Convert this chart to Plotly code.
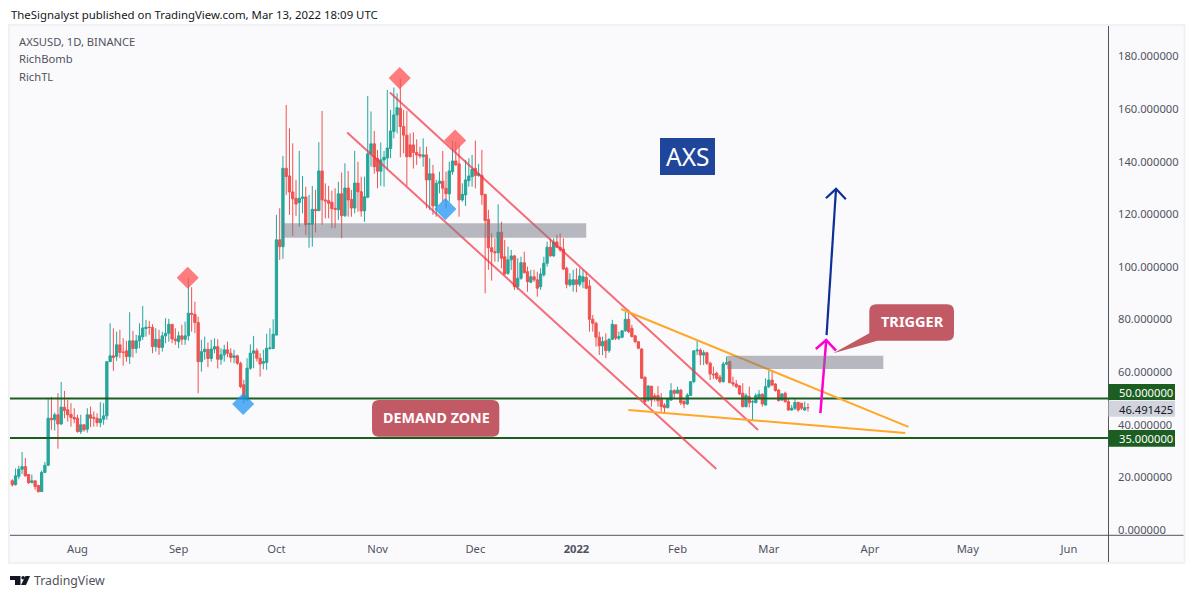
import pandas as pd
import plotly.graph_objects as go

START = pd.Timestamp("2021-07-12")

opens = [18.7,17.2,20.4,23.1,24.1,21.1,18.0,18.7,16.9,14.6,
 21.9,24.6,42.5,41.9,43.8,40.3,46.7,45.7,44.0,42.8,
 42.5,37.4,40.0,38.3,43.8,42.8,42.5,40.8,42.1,43.4,
 64.0,66.2,66.0,70.4,67.7,68.1,65.9,71.9,69.0,71.9,
 73.5,76.6,77.1,77.0,69.7,72.5,69.4,73.8,74.8,78.2,
 72.6,71.6,73.8,72.5,73.8,82.4,82.0,78.9,64.0,67.8,
 68.7,65.2,68.8,69.7,64.9,66.6,68.5,67.2,65.6,66.2,
 63.4,55.2,49.4,61.5,67.2,68.1,65.3,63.4,63.7,69.0,
 69.0,74.1,110.3,107.7,137.5,134.6,128.5,126.1,124.5,126.1,
 126.6,116.2,116.2,121.9,121.4,136.5,125.5,125.2,124.6,122.3,
 121.7,127.8,119.5,130.0,125.7,122.4,131.9,128.6,121.3,126.5,
 143.0,146.8,141.3,136.4,140.7,141.4,145.0,151.5,157.8,160.3,
 153.4,150.1,146.4,146.4,143.5,142.8,141.9,142.6,133.1,135.4,
 123.2,131.8,132.6,129.9,127.8,136.2,140.3,139.2,125.5,127.4,
 132.8,134.3,137.4,134.8,134.8,127.6,118.1,107.3,105.8,105.4,
 113.2,103.9,97.6,102.7,104.2,92.5,95.7,101.6,98.2,94.2,
 96.3,95.1,92.5,97.0,101.4,107.5,104.2,109.5,107.5,106.8,
 99.5,93.2,93.2,95.1,93.4,94.4,96.0,92.8,80.1,78.6,
 73.3,70.0,71.9,68.2,72.5,78.0,72.9,73.3,75.7,80.1,
 76.7,73.8,71.6,68.8,58.1,49.4,54.7,51.0,51.1,50.1,
 47.5,46.5,49.4,53.0,52.0,53.2,48.8,47.9,51.1,56.4,
 68.1,68.4,66.5,67.4,63.4,59.3,59.6,58.1,56.4,63.1,
 64.0,56.0,55.5,54.8,52.0,46.9,50.7,48.7,48.4,50.1,
 51.6,47.5,54.5,57.0,55.5,53.2,49.4,52.0,48.8,45.6,
 46.3,48.5,48.2,45.6,46.5]

closes = [17.2,20.6,23.1,24.1,20.6,18.0,18.7,16.5,14.6,21.9,
 24.6,42.5,41.9,43.8,40.3,46.7,45.4,43.8,42.8,42.2,
 37.4,40.0,38.1,43.8,42.5,42.5,40.8,42.2,43.4,64.0,
 66.2,65.6,70.4,67.5,67.5,65.9,71.9,69.0,71.9,73.8,
 76.8,77.1,77.0,69.7,72.5,69.4,73.8,74.8,78.2,72.6,
 72.0,73.8,72.5,73.8,82.4,82.0,78.9,64.0,67.8,68.7,
 65.2,68.8,69.7,64.9,66.6,68.5,67.2,65.6,66.2,63.4,
 54.5,50.1,61.5,67.2,68.1,65.3,63.1,64.0,69.1,69.2,
 74.4,110.3,107.7,137.5,134.4,128.5,125.9,123.9,126.1,126.6,
 116.0,116.5,121.9,121.4,136.5,125.5,125.1,124.2,122.1,121.9,
 127.8,119.5,130.0,125.5,122.4,131.9,128.6,121.3,126.7,143.0,
 146.8,138.1,136.4,140.7,141.7,145.2,151.7,157.8,160.6,153.4,
 150.1,141.9,141.9,143.5,142.6,142.2,142.6,133.1,135.4,123.2,
 131.8,132.6,129.9,127.8,136.5,140.3,138.8,125.5,127.6,133.1,
 134.6,137.1,134.8,135.4,127.4,117.6,107.3,105.8,105.4,113.2,
 103.3,97.3,102.7,104.2,92.5,95.7,101.6,97.8,94.4,96.3,
 95.1,91.9,97.3,101.4,107.5,104.2,109.5,107.5,106.5,99.2,
 93.4,95.1,95.1,93.4,96.6,96.3,91.9,80.1,78.6,73.3,
 70.0,71.6,68.2,72.5,78.2,72.9,73.5,75.7,80.1,75.4,
 73.5,71.6,69.1,57.7,48.8,54.7,49.4,50.1,49.1,46.9,
 46.5,49.7,53.0,52.0,53.2,48.4,47.9,51.3,56.4,68.1,
 68.4,66.5,67.4,63.4,59.3,59.0,57.7,56.4,63.1,63.6,
 56.0,55.5,54.5,51.7,46.9,51.1,48.4,48.8,51.1,51.6,
 47.9,54.5,57.0,55.1,53.0,49.2,51.7,48.8,45.6,46.3,
 48.5,45.6,46.3,46.5,46.49]

highs = [19.3,23.4,24.4,29.7,27.4,21.1,21.1,18.7,17.2,22.6,
 25.9,50.2,50.6,44.6,52.0,56.3,52.9,49.5,48.2,46.3,
 43.8,43.8,40.0,46.3,46.9,45.0,44.4,48.6,48.2,64.0,
 78.6,76.7,75.4,76.1,72.9,71.9,82.8,75.7,74.2,78.6,
 85.2,79.9,79.5,78.2,76.7,76.1,75.4,80.5,80.3,78.2,
 76.7,75.4,78.0,79.2,95.7,92.3,86.8,81.1,72.3,73.5,
 71.3,72.3,72.9,72.5,69.1,70.4,71.6,69.1,68.5,66.6,
 64.0,57.1,65.3,70.6,73.8,69.1,67.2,68.5,74.6,76.7,
 80.1,119.8,122.3,142.2,161.6,152.7,147.0,133.1,144.1,134.6,
 130.5,127.4,130.8,129.3,147.4,159.3,131.8,130.8,129.0,129.9,
 132.4,135.9,139.4,136.5,129.3,144.1,140.0,134.3,134.3,165.0,
 159.1,151.7,144.5,147.3,144.1,167.3,159.7,168.2,166.0,171.7,
 159.7,159.4,150.8,151.2,148.5,145.7,148.9,145.7,141.3,138.8,
 133.1,136.2,144.1,136.2,140.0,147.9,147.6,146.4,131.8,140.7,
 141.3,142.6,148.0,139.2,144.5,127.6,121.7,112.8,110.9,123.8,
 117.2,110.3,107.7,106.5,104.6,103.3,103.9,105.8,100.1,98.9,
 98.9,98.2,99.5,103.9,109.6,110.9,110.9,112.2,112.8,110.9,
 100.1,97.6,98.9,99.5,99.5,98.9,98.2,95.1,81.8,79.2,
 75.4,73.5,74.8,72.9,79.9,78.0,75.4,76.0,83.0,83.7,
 78.0,74.2,71.6,69.1,58.3,55.1,54.7,52.0,54.7,52.0,
 48.2,50.1,55.8,53.5,54.5,53.5,50.1,52.0,56.4,68.2,
 72.2,69.1,68.4,67.8,64.0,62.1,60.2,59.0,64.0,65.9,
 64.4,58.3,57.0,55.1,55.8,52.0,54.5,49.4,52.0,53.2,
 52.0,57.7,61.5,60.8,55.8,53.5,52.0,52.6,50.1,47.5,
 49.7,48.8,48.2,48.8,48.2]

lows = [16.5,16.9,19.3,21.3,20.3,17.5,17.8,15.3,14.2,14.6,
 21.6,24.4,38.1,37.8,30.9,40.0,42.5,41.2,39.3,40.6,
 37.0,36.5,37.4,37.0,39.1,39.3,39.3,39.1,40.0,41.9,
 64.0,60.5,64.3,65.3,62.5,64.0,63.1,65.6,67.2,69.1,
 72.3,73.5,74.2,67.2,67.8,66.6,67.8,71.0,71.6,71.0,
 70.4,69.1,70.4,70.4,72.0,75.4,74.8,52.0,60.2,64.7,
 61.9,64.0,67.2,61.4,62.8,64.0,65.7,63.7,63.4,62.8,
 53.9,48.2,49.4,60.9,61.5,64.0,58.3,61.1,60.9,68.5,
 68.7,74.1,102.7,103.1,127.4,119.8,111.8,119.4,115.3,120.4,
 112.2,107.3,107.7,113.1,121.3,116.0,118.5,118.5,114.7,114.7,
 117.9,110.9,119.0,119.1,119.1,120.4,121.0,119.1,117.2,126.1,
 138.1,135.4,129.9,130.8,130.5,136.9,141.3,148.9,150.8,141.7,
 143.2,130.8,141.7,137.4,138.8,141.3,138.1,122.3,121.7,119.8,
 119.1,128.0,124.8,122.3,124.8,135.0,138.5,119.1,124.8,123.2,
 130.5,130.5,129.9,134.3,123.6,90.0,98.9,94.8,102.0,102.0,
 99.5,97.0,97.0,98.9,91.3,91.3,95.1,97.6,90.6,93.8,
 94.4,88.7,91.3,96.3,100.1,103.9,103.9,107.1,105.8,98.9,
 91.9,92.5,90.6,90.4,92.5,91.9,91.5,75.4,75.4,69.7,
 66.5,66.5,65.3,67.4,72.2,72.2,72.2,72.9,75.4,74.8,
 73.3,71.0,68.7,57.4,47.5,48.8,46.9,48.8,46.9,45.0,
 44.4,46.3,49.2,50.1,51.7,47.5,46.3,47.5,51.1,55.8,
 66.5,62.7,62.7,62.7,57.0,57.4,57.0,55.8,56.0,62.7,
 55.8,54.5,53.9,51.3,46.6,46.6,46.6,41.8,48.2,49.7,
 46.9,47.3,53.9,54.8,52.6,48.8,49.2,48.4,45.4,45.4,
 45.6,45.0,45.6,45.3,45.0]

price_ticks = [0, 20, 40, 60, 80, 100, 120, 140, 160, 180]
month_ticks = ["2021-08-01", "2021-09-01", "2021-10-01", "2021-11-01", "2021-12-01", "2022-01-01",
               "2022-02-01", "2022-03-01", "2022-04-01", "2022-05-01", "2022-06-01"]
month_labels = ["Aug", "Sep", "Oct", "Nov", "Dec", "<b>2022</b>", "Feb", "Mar", "Apr", "May", "Jun"]

# drawings: days after the first candle, and prices
upper_channel_days, upper_channel_prices = [115.8, 228.7], [166.3, 38.0]
lower_channel_days, lower_channel_prices = [102.7, 215.9], [151.1, 23.2]
wedge_top_days, wedge_top_prices = [186.7, 274.8], [84.0, 39.2]
wedge_bottom_days, wedge_bottom_prices = [188.9, 273.8], [45.6, 36.9]
navy_shaft_days, navy_shaft_prices = [249.7, 252.6], [74.1, 129.7]
navy_head_days, navy_head_prices = [249.5, 252.6, 255.6], [126.1, 129.7, 125.7]
pink_shaft_days, pink_shaft_prices = [247.8, 249.6], [44.4, 72.2]
pink_head_days, pink_head_prices = [246.4, 249.6, 252.6], [68.8, 72.2, 68.2]
red_marker_days, red_marker_prices = [53.8, 118.8, 135.8], [95.9, 171.8, 148.1]
blue_marker_days, blue_marker_prices = [70.8, 132.8], [47.9, 122.0]
support_levels = [50, 35]
band_upper = dict(days=[83.0, 176.0], prices=[111.1, 116.6])
band_lower = dict(days=[219.2, 267.1], prices=[61.2, 66.2])
last_price = 46.491425

VIEW_DAYS = [-0.7, 336.0]
VIEW_PRICES = [-1.9, 191.6]

GREEN, RED = "#26a69a", "#ef5350"
DARK_GREEN = "#1b5e20"
PANEL = "#fafafd"
BORDER = "#f0f1f5"
AXIS = "#50535e"
TEXT = "#50535e"
FONT = "Noto Sans"

L, R, T, B = 10, 1108, 26, 535
W, H = 1194, 598


def day(values):
    return [START + pd.Timedelta(days=v) for v in values]


def px(x):
    return (x - L) / (R - L)


def py(y):
    return (B - y) / (B - T)


def poly(points):
    return "M " + " L ".join(f"{px(x):.5f},{py(y):.5f}" for x, y in points) + " Z"


def rounded(x0, y0, x1, y1, r, extra=None):
    seg = [f"M {px(x0 + r):.5f},{py(y0):.5f}",
           f"L {px(x1 - r):.5f},{py(y0):.5f}",
           f"Q {px(x1):.5f},{py(y0):.5f} {px(x1):.5f},{py(y0 + r):.5f}",
           f"L {px(x1):.5f},{py(y1 - r):.5f}",
           f"Q {px(x1):.5f},{py(y1):.5f} {px(x1 - r):.5f},{py(y1):.5f}"]
    if extra:
        for ex, ey in extra:
            seg.append(f"L {px(ex):.5f},{py(ey):.5f}")
    else:
        seg.append(f"L {px(x0 + r):.5f},{py(y1):.5f}")
        seg.append(f"Q {px(x0):.5f},{py(y1):.5f} {px(x0):.5f},{py(y1 - r):.5f}")
    seg.append(f"L {px(x0):.5f},{py(y0 + r):.5f}")
    seg.append(f"Q {px(x0):.5f},{py(y0):.5f} {px(x0 + r):.5f},{py(y0):.5f} Z")
    return " ".join(seg)


fig = go.Figure()
fig.add_trace(go.Candlestick(
    x=pd.date_range(START, periods=len(opens)),
    open=opens, high=highs, low=lows, close=closes,
    whiskerwidth=0,
    increasing=dict(line=dict(color=GREEN, width=1), fillcolor=GREEN),
    decreasing=dict(line=dict(color=RED, width=1), fillcolor=RED),
    showlegend=False,
))


def line(days, prices, color, width):
    fig.add_trace(go.Scatter(x=day(days), y=prices, mode="lines", showlegend=False,
                             line=dict(color=color, width=width), hoverinfo="skip"))


for level in support_levels:
    line(VIEW_DAYS, [level, level], DARK_GREEN, 2)
line(upper_channel_days, upper_channel_prices, "rgba(242,54,69,0.72)", 2)
line(lower_channel_days, lower_channel_prices, "rgba(242,54,69,0.72)", 2)
line(wedge_top_days, wedge_top_prices, "#ffa726", 2)
line(wedge_bottom_days, wedge_bottom_prices, "#ffa726", 2)
line(navy_shaft_days, navy_shaft_prices, "#0d2f9a", 2.2)
line(navy_head_days, navy_head_prices, "#0d2f9a", 2.2)
line(pink_shaft_days, pink_shaft_prices, "#ff00d0", 2.5)
line(pink_head_days, pink_head_prices, "#ff00d0", 2.5)

fig.add_trace(go.Scatter(x=day(red_marker_days), y=red_marker_prices, mode="markers", showlegend=False,
                         marker=dict(symbol="diamond", size=17, color="rgba(255,82,82,0.75)", line=dict(width=0))))
fig.add_trace(go.Scatter(x=day(blue_marker_days), y=blue_marker_prices, mode="markers", showlegend=False,
                         marker=dict(symbol="diamond", size=17, color="rgba(33,150,243,0.75)", line=dict(width=0))))

shapes = [
    dict(type="rect", xref="paper", yref="paper", layer="below",
         x0=px(9), x1=px(1184.5), y0=py(563), y1=py(25),
         fillcolor=PANEL, line=dict(color=BORDER, width=2)),
]
for band in (band_upper, band_lower):
    shapes.append(dict(type="rect", xref="x", yref="y", layer="above",
                       x0=day(band["days"])[0], x1=day(band["days"])[1],
                       y0=band["prices"][0], y1=band["prices"][1],
                       fillcolor="rgba(120,123,134,0.52)", line=dict(width=0)))
shapes += [
    dict(type="line", xref="paper", yref="paper", layer="above", x0=px(10), x1=px(1183.5), y0=py(535.3), y1=py(535.3),
         line=dict(color=AXIS, width=1)),
    dict(type="line", xref="paper", yref="paper", layer="above", x0=px(1108.5), x1=px(1108.5), y0=py(26), y1=py(562),
         line=dict(color=AXIS, width=1)),
    dict(type="path", xref="paper", yref="paper", layer="above", line=dict(width=0), fillcolor="#1f469b",
         path=poly([(660, 138), (715, 138), (715, 175), (660, 175)])),
    dict(type="path", xref="paper", yref="paper", layer="above", line=dict(width=0), fillcolor="#c25a65",
         path=rounded(372, 400, 499.3, 436.7, 7)),
    dict(type="path", xref="paper", yref="paper", layer="above", line=dict(width=0), fillcolor="#c25a65",
         path=rounded(869.3, 304.3, 954, 340.7, 7, extra=[(877.3, 340.7), (833.3, 353.3), (869.3, 333.3)])),
    dict(type="path", xref="paper", yref="paper", layer="above", line=dict(width=0), fillcolor="#d1d4dc",
         path=poly([(1108.5, 400.7), (1175, 400.7), (1175, 416.7), (1108.5, 416.7)])),
    dict(type="path", xref="paper", yref="paper", layer="above", line=dict(width=0), fillcolor=DARK_GREEN,
         path=poly([(1108.5, 384), (1175, 384), (1175, 400), (1108.5, 400)])),
    dict(type="path", xref="paper", yref="paper", layer="above", line=dict(width=0), fillcolor=DARK_GREEN,
         path=poly([(1108.5, 430), (1175, 430), (1175, 446.7), (1108.5, 446.7)])),
    dict(type="path", xref="paper", yref="paper", layer="above", line=dict(width=0), fillcolor="#131722",
         path=poly([(10, 576), (20.5, 576), (20.5, 585), (15, 585), (15, 580), (10, 580)])),
    dict(type="circle", xref="paper", yref="paper", layer="above", line=dict(width=0), fillcolor="#131722",
         x0=px(21.3), x1=px(24.9), y0=py(576), y1=py(579.6)),
    dict(type="path", xref="paper", yref="paper", layer="above", line=dict(width=0), fillcolor="#131722",
         path=poly([(25.5, 576), (30, 576), (26, 585), (21, 585)])),
]


def label(x, y, text, size=12, color=TEXT, anchor="left"):
    return dict(xref="paper", yref="paper", x=px(x), y=py(y), text=text, showarrow=False, xanchor=anchor,
                yanchor="middle", font=dict(family=FONT, size=size, color=color), borderpad=0, align=anchor)


annotations = [
    label(10, 14, "TheSignalyst published on TradingView.com, Mar 13, 2022 18:09 UTC", 11.4, "#131722"),
    label(18, 41.5, "AXSUSD, 1D, BINANCE", 11.2),
    label(18, 59, "RichBomb", 11.2),
    label(18, 76.5, "RichTL", 11.2),
    label(33, 580, "TradingView", 12.3, "#50535e"),
    label(687.5, 156.5, "AXS", 24.5, "#ffffff", "center"),
    label(436, 417.5, "<b>DEMAND ZONE</b>", 14.3, "#ffffff", "center"),
    label(912, 321, "<b>TRIGGER</b>", 14.5, "#ffffff", "center"),
    label(1118, 392, "50.000000", 11.2, "#ffffff"),
    label(1118, 409, "46.491425", 11.2, "#131722"),
    label(1118, 438.5, "35.000000", 11.2, "#ffffff"),
]

fig.update_layout(
    width=W, height=H, autosize=False,
    margin=dict(l=L, r=W - R, t=T, b=H - B, pad=0),
    paper_bgcolor="#ffffff", plot_bgcolor="rgba(0,0,0,0)",
    showlegend=False, boxgap=0.3, boxgroupgap=0,
    shapes=shapes, annotations=annotations,
    font=dict(family=FONT, size=11.2, color=TEXT),
    xaxis=dict(type="date", range=day(VIEW_DAYS), rangeslider=dict(visible=False),
               tickvals=month_ticks, ticktext=month_labels, tickangle=0,
               showgrid=False, zeroline=False, showline=False, ticks="", ticklabelstandoff=6,
               tickfont=dict(family=FONT, size=11.2, color=TEXT)),
    yaxis=dict(range=VIEW_PRICES, side="right", tickvals=price_ticks, tickformat=".6f",
               showgrid=False, zeroline=False, showline=False, ticks="", ticklabelstandoff=9,
               tickfont=dict(family=FONT, size=11.2, color=TEXT)),
)

fig.write_html("out.html", config={"displayModeBar": False}, post_script="document.body.style.margin='0';")
